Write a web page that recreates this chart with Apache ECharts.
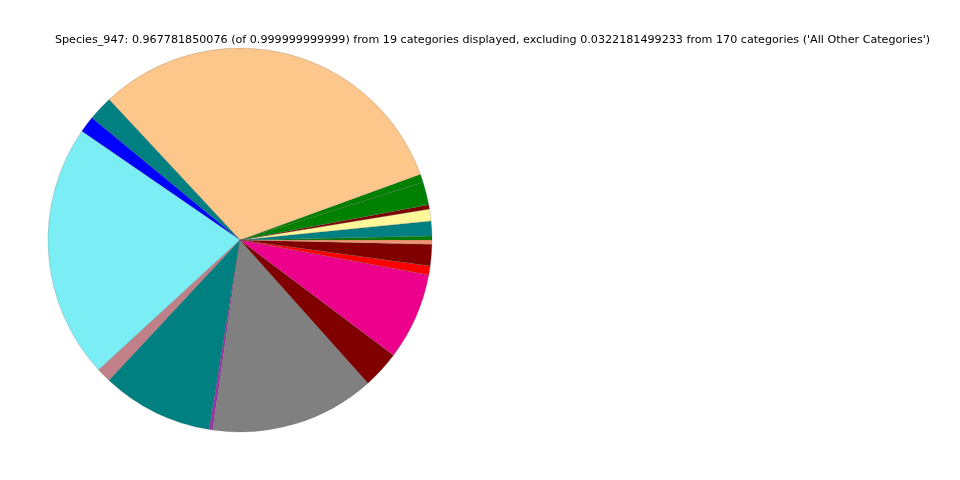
<!DOCTYPE html>
<html>
<head>
<meta charset="utf-8">
<script src="https://cdn.jsdelivr.net/npm/echarts@6/dist/echarts.min.js"></script>
<style>html,body{margin:0;padding:0;background:#fff}#c{width:960px;height:480px}</style>
</head>
<body>
<div id="c"></div>
<script>
var titleText = "Species_947: 0.967781850076 (of 0.999999999999) from 19 categories displayed, excluding 0.0322181499233 from 170 categories ('All Other Categories')";
var categories = ["Category 1","Category 2","Category 3","Category 4","Category 5","Category 6","Category 7","Category 8","Category 9","Category 10","Category 11","Category 12","Category 13","Category 14","Category 15","Category 16","Category 17","Category 18","Category 19"];
var values = [0.00323,0.01210,0.00968,0.00349,0.01855,0.00672,0.30378,0.02016,0.01344,0.20727,0.01183,0.09087,0.00269,0.13442,0.03038,0.07097,0.00739,0.01734,0.00349];
var colors = ["#008000","#008080","#fff799","#800000","#008000","#008000","#fdc68a","#008080","#0000ff","#7bedf4","#c08088","#008080","#9b30a8","#808080","#800000","#ec008c","#ff0000","#800000","#f0946e"];

var data = categories.map(function(n,i){return {name:n,value:values[i],itemStyle:{color:colors[i]}};});
var chart = echarts.init(document.getElementById('c'), null, {renderer:'canvas'});
chart.setOption({
  animation:false,
  backgroundColor:'#ffffff',
  graphic:[{type:'text',x:492.5,y:40,style:{text:titleText,fontFamily:'DejaVu Sans',fontSize:11.15,fill:'#000',textAlign:'center',textVerticalAlign:'middle'}}],
  series:[{
    type:'pie',
    center:[240,240],
    radius:[0,192],
    startAngle:0,
    clockwise:false,
    minAngle:0,
    avoidLabelOverlap:false,
    label:{show:false},
    labelLine:{show:false},
    emphasis:{disabled:true},
    silent:true,
    itemStyle:{borderColor:'rgba(90,90,90,0.45)',borderWidth:0.5},
    data:data
  }]
});
</script>
</body>
</html>
